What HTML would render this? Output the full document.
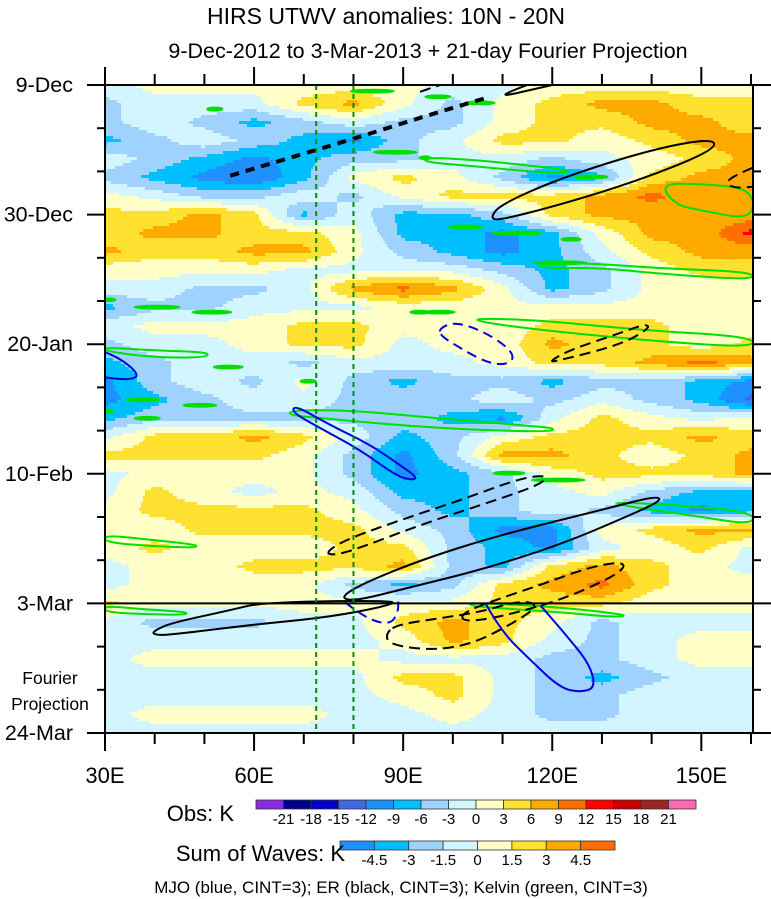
<!DOCTYPE html>
<html><head><meta charset="utf-8"><style>
body{margin:0;background:#fff;width:771px;height:899px;overflow:hidden}
svg{display:block;font-family:"Liberation Sans",sans-serif}
</style></head><body>
<svg id="chart" width="771" height="899" viewBox="0 0 771 899" xmlns="http://www.w3.org/2000/svg">
<text x="386" y="24" font-size="23" text-anchor="middle">HIRS UTWV anomalies: 10N - 20N</text>
<text x="428" y="58" font-size="21.5" text-anchor="middle">9-Dec-2012 to 3-Mar-2013 + 21-day Fourier Projection</text>
<g id="heat"></g>
<g id="contours"></g>
<g id="axes"></g>
<g id="legend"></g>
<text x="401" y="893" font-size="17" text-anchor="middle">MJO (blue, CINT=3); ER (black, CINT=3); Kelvin (green, CINT=3)</text>
</svg>
<script>
// ---- data ----
const lonNodes = [30,40,50,60,70,80,90,100,110,120,130,140,150,160];
const dayStep = 3;
const obsGrid = [
[-1,1,1,1,1,1,1,-1,-1,1,1,1,1,1],
[-4,-1,-1,-1,4,7,1,-4,1,4,7,7,4,4],
[-4,-1,-4,-7,-4,-1,-4,-4,1,4,4,7,7,4],
[-7,-4,-1,-4,-7,-10,-4,-1,4,4,1,4,7,7],
[-1,-4,-7,-10,-7,-4,-4,-1,-1,-4,-1,1,4,7],
[-4,-7,-10,-12,-7,1,4,1,-4,-10,-7,4,7,7],
[1,-1,-4,-4,-1,-4,1,4,4,4,7,10,7,7],
[4,4,7,4,-7,-1,-7,-7,-4,4,7,7,7,7],
[4,7,7,4,4,1,-7,-7,-10,-7,1,7,7,13],
[7,4,4,7,7,1,-4,-7,-10,-7,-1,4,7,7],
[1,1,1,1,-1,-1,-1,-1,-4,-7,-4,1,4,4],
[-1,-1,-4,-4,-1,7,10,7,1,-7,-4,1,1,1],
[-7,-4,-4,-1,-1,-1,1,1,1,1,1,1,1,1],
[-1,1,1,1,4,4,1,1,1,4,4,4,1,1],
[-4,-1,-1,1,4,4,-1,1,1,7,4,4,1,4],
[-7,-4,-1,-1,-4,-1,-1,-1,1,4,4,7,10,7],
[-10,-4,-1,-4,1,-4,-7,-4,-4,-7,-4,-4,-7,-10],
[-10,-7,-4,-1,-1,-4,-4,-4,-1,-4,-1,-4,-7,-13],
[-7,-4,-4,-4,-4,-4,-4,-7,-10,-1,4,1,-1,1],
[-1,4,4,7,4,-1,-7,-4,1,4,4,4,7,4],
[4,4,4,4,1,-4,-10,-4,7,7,4,1,4,7],
[-1,1,1,1,1,-4,-10,-7,-4,1,4,4,4,7],
[-1,4,1,-1,1,-1,-7,-7,-4,-1,1,-4,-7,-7],
[1,4,4,4,4,1,-4,-7,-4,-1,-4,-7,-10,-7],
[1,1,4,4,4,4,-1,-4,-10,-10,1,4,7,7],
[1,4,1,1,1,4,4,-4,-7,-10,-1,1,4,-1],
[-1,1,1,4,4,4,7,-4,-7,4,7,4,1,-1],
[-1,1,1,1,1,-4,-7,-4,4,7,10,4,1,1],
[4,1,1,1,1,1,1,1,4,4,4,1,1,1],
[-1,-4,-4,-4,-1,-1,4,7,4,1,-4,-1,-1,-1],
[-1,-1,-1,-1,-1,-1,1,7,4,-1,-4,-1,1,1],
[-1,1,1,1,1,1,-1,-1,-1,-4,-4,-1,1,1],
[-1,-1,-1,-1,-1,-1,4,4,-1,-4,-7,-4,-1,-1],
[-1,-1,-1,-1,-1,-1,1,4,-1,-4,-4,-1,-1,-1],
[-1,1,1,1,1,-1,-1,1,-1,-4,-4,-1,-1,-1],
[-1,-1,-1,-1,-1,-1,-1,-1,-1,-1,-1,-1,-1,-1]
];
const obsLevels = [-21,-18,-15,-12,-9,-6,-3,0,3,6,9,12,15,18,21];
const obsColors = ["#8A2BE2","#00008B","#0000CD","#4169E1","#1E90FF","#00BFFF","#A0D2FF","#D2F5FF","#FFFFC8","#FFE132","#FFAA00","#FF6E00","#FF0000","#C80000","#A02323","#FF69B4"];
const obsTickLabels = ["-21","-18","-15","-12","-9","-6","-3","0","3","6","9","12","15","18","21"];
const waveColors = ["#1E90FF","#00BFFF","#A0D2FF","#D2F5FF","#FFFFC8","#FFE132","#FFAA00","#FF6E00"];
const waveTickLabels = ["-4.5","-3","-1.5","0","1.5","3","4.5"];
const xTickLons = [30,60,90,120,150];
const xTickLabels = ["30E","60E","90E","120E","150E"];
const yTickDays = [0,21,42,63,84,105];
const yTickLabels = ["9-Dec","30-Dec","20-Jan","10-Feb","3-Mar","24-Mar"];
const refLons = [72.5,80];
const projectionStartDay = 84;
// contours: [lon, day] points
const mjoSolid = [
 [[30,43.3],[33,44.2],[37,47],[35,47.8],[30,47.4]],
 [[68.3,51.9],[75.3,55.1],[83.4,58.3],[89.4,61.6],[93,63.7],[91.4,64],[88.4,63.2],[81.3,59.1],[73.3,55.6],[67.6,53]],
 [[106.5,83.9],[109.5,88.3],[115.6,93.2],[121.6,97.7],[125.6,98.4],[128.7,97.7],[127.6,94],[123.6,89.9],[117.6,84.3]]
];
const mjoClosed = [false,true,false];
const mjoDashed = [
 [[97.4,39.4],[100.4,38.4],[105.5,39.7],[110.5,42.1],[112.5,44.2],[110.5,45.4],[106.5,44.9],[100.4,42.1],[97.4,40.5]],
 [[78.3,83.8],[82.3,86.4],[87.4,87.5],[89,85.4],[89,83.5]]
];
const mjoDashedClosed = [true,false];
const erSolid = [
 [[107.5,21.6],[109.5,19.4],[121.6,15.1],[139.7,10.5],[152.4,8.6],[152.8,10.5],[137.7,15.4],[121.6,19.4],[109.5,21.9]],
 [[77.3,83.1],[81.3,81],[93.4,77],[109.5,72.9],[129.7,68.9],[140.7,66.6],[142.1,67.3],[135.7,69.7],[121.6,74.5],[105.5,78.6],[89.4,81.8],[80.3,83.6]],
 [[39.5,88.6],[43.1,87.2],[55.2,85.1],[61.8,83.8],[88.4,83.5],[87.4,84.3],[75.3,86.2],[59.2,87.5],[43.1,89.1],[40.1,89.1]],
 [[115,0],[107,2.4],[120,0]]
];
const erSolidClosed = [true,true,true,false];
const erDashed = [
 [[160.4,13.4],[156.8,14.6],[154.8,15.9],[156.8,16.7],[160.4,16.5]],
 [[119.2,44.9],[123.6,42.9],[133.7,40.2],[138.7,38.7],[139.7,39.4],[133.7,42.1],[121.6,44.6]],
 [[74.3,75.8],[78.3,73.7],[89.4,70.5],[101.5,67.3],[113.6,63.7],[119.2,63.2],[117.6,64.8],[105.5,68.1],[93.4,71.3],[81.3,75],[76.3,76.2]],
 [[101.5,85.9],[105.5,84.3],[117.6,81],[127.6,78.1],[133.7,77.3],[134.7,78.1],[131.7,79.9],[121.6,83.5],[109.5,86.2],[102.5,87]],
 [[86.4,89.1],[87.4,90.7],[95.4,91.6],[103.5,90.7],[111.5,87.5],[117.6,84.3],[113.6,83.5],[105.5,85.4],[97.4,86.4],[88.4,87.5]],
 [[93.4,1.1],[97.4,0]]
];
const erDashedClosed = [false,true,true,true,true,false];
const erChain = [[55.2,14.7],[69.3,11.3],[79.3,8.9],[93.4,5.3],[107.5,1.9]];
const kelvin = [
 [[30,42.5],[39.1,43],[51.1,43.3],[50.1,44.2],[39.1,44.1],[30,43.1]],
 [[30,72.9],[39.1,73.7],[48.7,74.5],[48.1,75],[39.1,74.7],[30,74.1]],
 [[30,84.4],[37,84.9],[46.7,85.4],[46.1,85.9],[37,85.7],[30,85.4]],
 [[67.2,52.7],[79.3,52.7],[95.4,53.9],[113.6,55.1],[120.6,55.6],[119.6,56.2],[104.5,55.9],[88.4,55.1],[72.3,53.9],[67.2,53.5]],
 [[94.4,11.7],[105.5,12.2],[113.6,12.9],[123.6,13.8],[122.6,14.3],[113.6,13.9],[103.5,13.1],[94.4,12.5]],
 [[141.7,16.0],[149.8,16.0],[160.4,16.8],[160.4,21.9],[149.8,20.3],[144.7,19.4]],
 [[117.6,28.7],[129.7,29],[141.7,29.7],[160.4,30.3],[160.4,31.6],[141.7,30.6],[129.7,29.6],[117.6,29.7]],
 [[104.5,37.8],[117.6,38.1],[137.7,39.7],[160.4,40.8],[160.4,42.6],[137.7,41.3],[117.6,39.7],[105.5,38.4]],
 [[132.7,67.6],[145.8,68.1],[160.4,69.2],[160.4,71.3],[147.8,69.7],[133.7,68.1]],
 [[103.5,83.9],[115.6,84.3],[127.6,85.1],[135.7,86.0],[131.7,86.2],[121.6,85.4],[109.5,84.8],[103.5,84.4]]
];
const kelvinBlobs = [[52.1,3.9,1.6],[83.8,1.0,4.4],[88.4,10.9,4.4],[94.4,11.8,1.2],[30.6,34.8,1.6],[40.5,36,4.6],[51.5,36.8,4],[93.4,36.8,2],[54.8,45.7,3],[70.9,48,1.6],[37.7,51,3.4],[49.1,51.9,3.4],[97,1.9,2.6],[105.5,2.9,3],[127.8,14.9,3.4],[102.5,23,3.4],[112.9,24,5],[123.8,25,2],[121.6,28.8,5.4],[97.4,36.8,3],[30.4,52.8,1.4],[38.5,54,2.6],[111.3,62.9,3.2],[121.2,64,5.4]];

// ---- axes functions ----
const X0=105,X1=753,Y0=85,Y1=733,LON0=30,LON1=160.4,D1=105;
const xs = lon => X0 + (lon-LON0)*(X1-X0)/(LON1-LON0);
const ys = d => Y0 + d*(Y1-Y0)/D1;
const NS="http://www.w3.org/2000/svg";
function mk(tag, attrs, parent){const e=document.createElementNS(NS,tag);for(const k in attrs)e.setAttribute(k,attrs[k]);parent.appendChild(e);return e;}

function valueAt(lon, day){
  let fi=(lon-lonNodes[0])/(lonNodes[1]-lonNodes[0]); fi=Math.max(0,Math.min(lonNodes.length-1.0001,fi));
  let fj=day/dayStep; fj=Math.max(0,Math.min(obsGrid.length-1.0001,fj));
  const i=Math.floor(fi),j=Math.floor(fj),a=fi-i,b=fj-j;
  const v00=obsGrid[j][i],v10=obsGrid[j][i+1],v01=obsGrid[j+1][i],v11=obsGrid[j+1][i+1];
  return (v00*(1-a)+v10*a)*(1-b)+(v01*(1-a)+v11*a)*b;
}
function colorIdx(v){let k=0;while(k<obsLevels.length && v>=obsLevels[k])k++;return k;}

// heatmap
const heat=document.getElementById('heat');
const BH=3,BW=2;
for(let y=Y0;y<Y1;y+=BH){
  const day=(y+BH/2-Y0)*D1/(Y1-Y0);
  let runStart=X0,runC=null;
  for(let x=X0;x<=X1;x+=BW){
    let c=null;
    if(x<X1){const lon=LON0+(x+BW/2-X0)*(LON1-LON0)/(X1-X0);c=colorIdx(valueAt(lon,day));}
    if(c!==runC){
      if(runC!==null){
        const r=mk('rect',{x:runStart,y:y,width:Math.min(x,X1)-runStart+0.5,height:BH+0.4,fill:obsColors[runC]},heat);
        
        
      }
      runStart=x;runC=c;
    }
  }
}

// contours
const cg=document.getElementById('contours');
const clip=mk('clipPath',{id:'pc'},mk('defs',{},cg));
mk('rect',{x:X0,y:Y0,width:X1-X0,height:Y1-Y0},clip);
const cgc=mk('g',{'clip-path':'url(#pc)'},cg);
function pathD(pts,closed){
  const p=pts.map(q=>[xs(q[0]),ys(q[1])]);
  if(!closed) {
    let d='M'+p[0][0].toFixed(1)+','+p[0][1].toFixed(1);
    for(let k=1;k<p.length-1;k++){const m=[(p[k][0]+p[k+1][0])/2,(p[k][1]+p[k+1][1])/2];d+=' Q'+p[k][0].toFixed(1)+','+p[k][1].toFixed(1)+' '+m[0].toFixed(1)+','+m[1].toFixed(1);}
    d+=' L'+p[p.length-1][0].toFixed(1)+','+p[p.length-1][1].toFixed(1);return d;
  }
  const n=p.length;const mid=k=>[(p[k%n][0]+p[(k+1)%n][0])/2,(p[k%n][1]+p[(k+1)%n][1])/2];
  let m0=mid(n-1);let d='M'+m0[0].toFixed(1)+','+m0[1].toFixed(1);
  for(let k=0;k<n;k++){const m=mid(k);d+=' Q'+p[k][0].toFixed(1)+','+p[k][1].toFixed(1)+' '+m[0].toFixed(1)+','+m[1].toFixed(1);}
  return d+'Z';
}
kelvin.forEach(pts=>{
  const e=mk('path',{d:pathD(pts,true),fill:'none',stroke:'#00E000','stroke-width':2},cgc);
  
  
});
kelvinBlobs.forEach(b=>{
  const e=mk('ellipse',{cx:xs(b[0]),cy:ys(b[1]),rx:xs(b[0]+b[2])-xs(b[0]),ry:1.8,fill:'#00E000',stroke:'#00E000','stroke-width':1.2},cgc);
  
  
});
erSolid.forEach((pts,k)=>{
  const e=mk('path',{d:pathD(pts,erSolidClosed[k]),fill:'none',stroke:'#000','stroke-width':2},cgc);
  
  
});
erDashed.forEach((pts,k)=>{
  const e=mk('path',{d:pathD(pts,erDashedClosed[k]),fill:'none',stroke:'#000','stroke-width':2,'stroke-dasharray':'11 6'},cgc);
  
  
});
{
  const e=mk('path',{d:pathD(erChain,false),fill:'none',stroke:'#000','stroke-width':4,'stroke-dasharray':'9 7'},cgc);
  
  
}
mjoSolid.forEach((pts,k)=>{
  const e=mk('path',{d:pathD(pts,mjoClosed[k]),fill:'none',stroke:'#0000E0','stroke-width':2},cgc);
  
  
});
mjoDashed.forEach((pts,k)=>{
  const e=mk('path',{d:pathD(pts,mjoDashedClosed[k]),fill:'none',stroke:'#0000E0','stroke-width':2,'stroke-dasharray':'10 6'},cgc);
  
  
});
refLons.forEach(l=>{
  const e=mk('line',{x1:xs(l),x2:xs(l),y1:Y0,y2:Y1,stroke:'#0A8A0A','stroke-width':2,'stroke-dasharray':'5 4'},cgc);
  
  
});
{
  const e=mk('line',{x1:X0,x2:X1,y1:ys(projectionStartDay),y2:ys(projectionStartDay),stroke:'#000','stroke-width':2},cg);
  
  
}

// axes
const ax=document.getElementById('axes');
{
  const e=mk('rect',{x:X0,y:Y0,width:X1-X0,height:Y1-Y0,fill:'none',stroke:'#000','stroke-width':2},ax);
  
  
}
for(let l=30;l<=160;l+=10){
  const major=xTickLons.includes(l);const L=major?18:11;
  mk('line',{x1:xs(l),x2:xs(l),y1:Y1,y2:Y1+L,stroke:'#000','stroke-width':2},ax);
  mk('line',{x1:xs(l),x2:xs(l),y1:Y0,y2:Y0-L,stroke:'#000','stroke-width':2},ax);
}
xTickLabels.forEach((t,k)=>{
  const e=mk('text',{x:xs(xTickLons[k]),y:783,'font-size':22,'text-anchor':'middle'},ax);e.textContent=t;
  
  
});
for(let d=0;d<=105;d+=7){
  const major=yTickDays.includes(d);const L=major?18:8;
  mk('line',{x1:X0-L,x2:X0,y1:ys(d),y2:ys(d),stroke:'#000','stroke-width':2},ax);
  mk('line',{x1:X1,x2:X1+L,y1:ys(d),y2:ys(d),stroke:'#000','stroke-width':2},ax);
}
yTickLabels.forEach((t,k)=>{
  const e=mk('text',{x:73,y:ys(yTickDays[k])+7,'font-size':21.5,'text-anchor':'end'},ax);e.textContent=t;
  
  
});
[['Fourier',684],['Projection',710]].forEach(a=>{
  const e=mk('text',{x:50,y:a[1],'font-size':17.5,'text-anchor':'middle'},ax);e.textContent=a[0];
  
  
});

// legends
const lg=document.getElementById('legend');
function colorbar(colors,labels,x0,y0,w,h,title,tx,ty,name){
  const bw=w/colors.length;
  colors.forEach((c,k)=>{
    const r=mk('rect',{x:x0+k*bw,y:y0,width:bw,height:h,fill:c,stroke:'#333','stroke-width':0.8},lg);
    
    
  });
  labels.forEach((t,k)=>{
    const e=mk('text',{x:x0+(k+1)*bw,y:y0+h+15,'font-size':15,'text-anchor':'middle'},lg);e.textContent=t;
    
    
  });
  const e=mk('text',{x:tx,y:ty,'font-size':22,'text-anchor':'end'},lg);e.textContent=title;
  
  
}
colorbar(obsColors,obsTickLabels,256,800,440,9,'Obs: K',234,821,'obs-colorbar');
colorbar(waveColors,waveTickLabels,340,841,275,9,'Sum of Waves: K',345,861,'waves-colorbar');
</script>
</body></html>
